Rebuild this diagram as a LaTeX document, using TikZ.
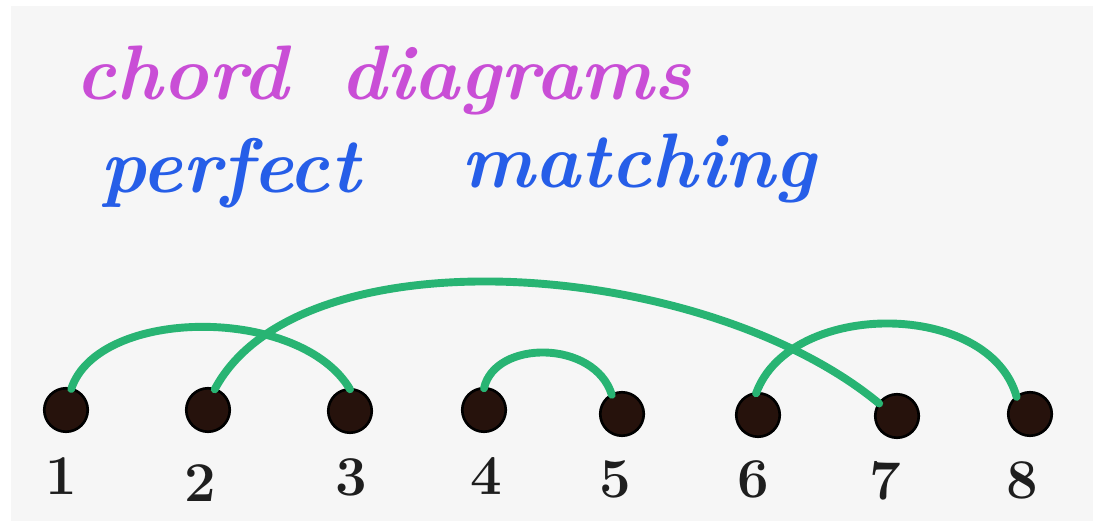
\documentclass[tikz,border=0pt]{standalone}
\usepackage{fontspec}
\definecolor{mag}{RGB}{201,78,214}
\definecolor{penblue}{RGB}{38,94,232}
\definecolor{arcgreen}{RGB}{40,180,115}
\definecolor{dotfill}{RGB}{38,18,12}
\definecolor{paper}{RGB}{246,246,246}
\definecolor{ink}{RGB}{30,30,30}
\begin{document}
\begin{tikzpicture}[x=0.02cm,y=-0.02cm,
  dot/.style={circle,fill=dotfill,draw=black,line width=1.5pt,minimum size=0.87cm,inner sep=0pt,outer sep=0pt},
  chord/.style={draw=arcgreen,line width=4.5pt,line cap=round},
  num/.style={font=\fontsize{32}{38}\selectfont\bfseries,text=ink,inner sep=0pt},
  title/.style={font=\fontsize{44}{50}\selectfont\bfseries\itshape,anchor=base,inner sep=0pt}]
\useasboundingbox (0,0) rectangle (1102,526);
\fill[white] (0,0) rectangle (1102,526);
\fill[paper] (11,6) rectangle (1093,521);
% titles
\node[title,text=mag] (w1) at (182,100) {chord};
\node[title,text=mag] (w2) at (516,100) {diagrams};
\node[title,text=penblue] (w3) at (230,193) {perfect};
\node[title,text=penblue] (w4) at (639,188) {matching};
% points
\node[dot] (d1) at (66,410) {};
\node[dot] (d2) at (208,410) {};
\node[dot] (d3) at (350,411) {};
\node[dot] (d4) at (484,410) {};
\node[dot] (d5) at (622,414) {};
\node[dot] (d6) at (758,415) {};
\node[dot] (d7) at (897,416) {};
\node[dot] (d8) at (1030,414) {};
% labels
\node[num] (n1) at (61,476) {1};
\node[num] (n2) at (200,483) {2};
\node[num] (n3) at (351,477) {3};
\node[num] (n4) at (486,476) {4};
\node[num] (n5) at (615,479) {5};
\node[num] (n6) at (753,479) {6};
\node[num] (n7) at (885,481) {7};
\node[num] (n8) at (1022,480) {8};
% chords
\draw[chord] (d1.76) .. controls +(27,-82) and +(-50,-84) .. (d3.90);
\draw[chord] (d2.72) .. controls +(85,-160) and +(-175,-145) .. (d7.145);
\draw[chord] (d4.90) .. controls +(11,-49) and +(-17,-55) .. (d5.118);
\draw[chord] (d6.95) .. controls +(34,-94) and +(-27,-97) .. (d8.128);
\end{tikzpicture}
\end{document}
